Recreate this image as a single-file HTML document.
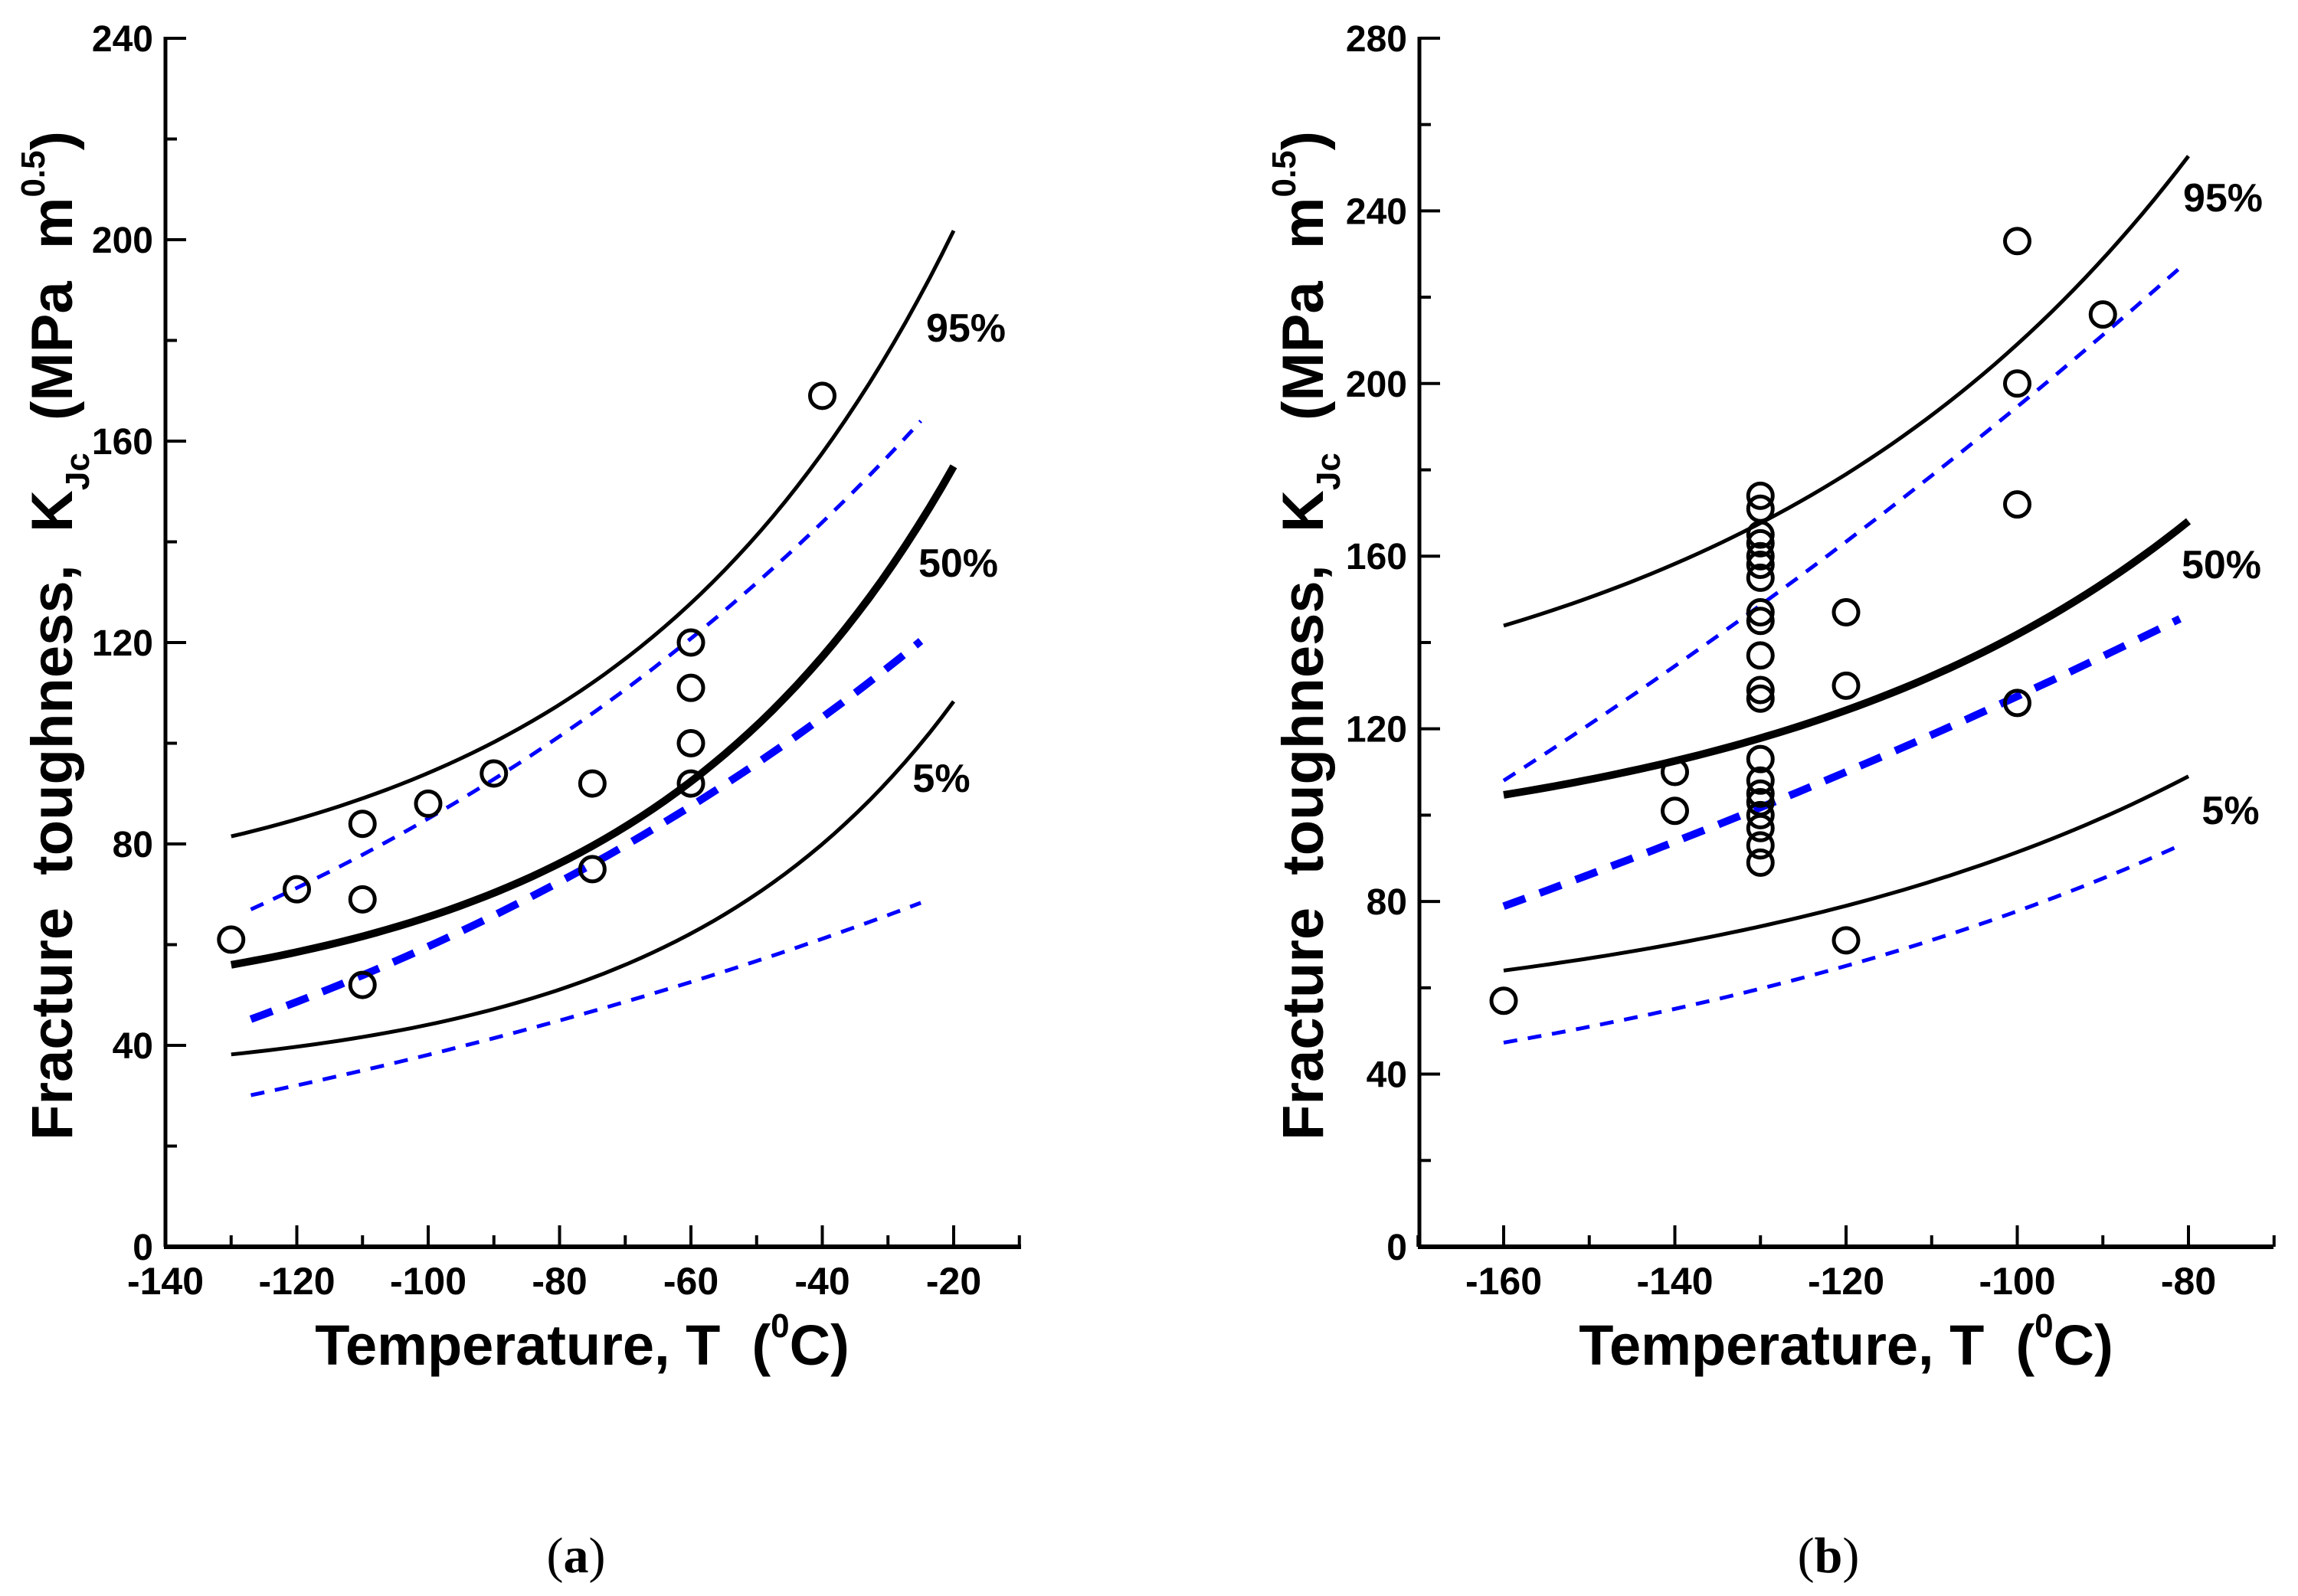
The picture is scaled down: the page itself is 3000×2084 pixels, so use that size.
<!DOCTYPE html>
<html><head><meta charset="utf-8">
<style>
html,body{margin:0;padding:0;background:#fff;}
svg{display:block;}
text{font-family:"Liberation Sans",Arial,sans-serif;font-weight:bold;fill:#000;}
</style></head>
<body>
<svg id="s" width="3000" height="2084" viewBox="0 0 3000 2084" xmlns="http://www.w3.org/2000/svg">
<rect width="3000" height="2084" fill="#fff"/>
<g id="g"></g>
<text x="760" y="1782" font-size="74" text-anchor="middle">Temperature, T&#160;&#160;(<tspan font-size="44" dy="-36">0</tspan><tspan dy="36">C)</tspan></text>
<text x="2410" y="1782" font-size="74" text-anchor="middle">Temperature, T&#160;&#160;(<tspan font-size="44" dy="-36">0</tspan><tspan dy="36">C)</tspan></text>
<text transform="translate(94,830) rotate(-90)" font-size="76" text-anchor="middle">Fracture&#160;&#160;toughness,&#160;&#160;K<tspan font-size="44" dy="22">Jc</tspan><tspan dy="-22">&#160;&#160;(MPa&#160;&#160;m</tspan><tspan font-size="44" dy="-36">0.5</tspan><tspan dy="36">)</tspan></text>
<text transform="translate(1727,830) rotate(-90)" font-size="76" text-anchor="middle">Fracture&#160;&#160;toughness,&#160;&#160;K<tspan font-size="44" dy="22">Jc</tspan><tspan dy="-22">&#160;&#160;(MPa&#160;&#160;m</tspan><tspan font-size="44" dy="-36">0.5</tspan><tspan dy="36">)</tspan></text>
<text x="752" y="2053" font-size="66" text-anchor="middle" style="font-family:'Liberation Serif',serif;font-weight:normal">(<tspan font-weight="bold">a</tspan>)</text>
<text x="2387" y="2053" font-size="66" text-anchor="middle" style="font-family:'Liberation Serif',serif;font-weight:normal">(<tspan font-weight="bold">b</tspan>)</text>
<text x="1261" y="446" font-size="52" text-anchor="middle">95%</text>
<text x="1251" y="753" font-size="52" text-anchor="middle">50%</text>
<text x="1229" y="1034" font-size="52" text-anchor="middle">5%</text>
<text x="2902" y="276" font-size="52" text-anchor="middle">95%</text>
<text x="2900" y="755" font-size="52" text-anchor="middle">50%</text>
<text x="2912" y="1076" font-size="52" text-anchor="middle">5%</text>
</svg>
<script>
(function(){
var g=document.getElementById("g");
function fit(p1,pm,p2){
  var h=pm[0]-p1[0];var r=(p2[1]-pm[1])/(pm[1]-p1[1]);
  if(Math.abs(r-1)<1e-6)r=1.000001;
  var C=Math.log(r)/h;var B=(pm[1]-p1[1])/(Math.exp(C*pm[0])-Math.exp(C*p1[0]));
  var A=p1[1]-B*Math.exp(C*p1[0]);
  return function(t){return A+B*Math.exp(C*t);};
}
function plot(P){
  var X=function(t){return P.x0+(t-P.t0)*P.sx;},Y=function(v){return 1628-v*P.sy;};
  var s="";
  s+='<line x1="'+P.ax+'" y1="1628" x2="'+P.ax+'" y2="48" stroke="#000" stroke-width="5"/>';
  s+='<line x1="'+(P.ax-2)+'" y1="1628" x2="'+P.axr+'" y2="1628" stroke="#000" stroke-width="6"/>';
  for(var v=0;v<=P.ymax;v+=20){var y=Y(v),maj=(v%40==0);
    s+='<line x1="'+P.ax+'" y1="'+y+'" x2="'+(P.ax+(maj?27:15))+'" y2="'+y+'" stroke="#000" stroke-width="4"/>';
    if(maj)s+='<text x="'+(P.ax-16)+'" y="'+(y+17)+'" font-size="48" text-anchor="end">'+v+'</text>';}
  for(var t=P.tmin;t<=P.tmax+0.01;t+=P.tstep){var x=X(t),maj=(Math.round((t-P.tlab)/P.tstep)%2==0);
    s+='<line x1="'+x+'" y1="1628" x2="'+x+'" y2="'+(1628-(maj?28:15))+'" stroke="#000" stroke-width="4"/>';
    if(maj)s+='<text x="'+x+'" y="1690" font-size="50" text-anchor="middle">'+t+'</text>';}
  P.curves.forEach(function(c){var f=fit(c.p[0],c.p[1],c.p[2]);var d="";
    var a=c.p[0][0],b=c.p[2][0];for(var i=0;i<=60;i++){var t=a+(b-a)*i/60;d+=(i?"L":"M")+X(t).toFixed(1)+","+Y(f(t)).toFixed(1);}
    s+='<path d="'+d+'" fill="none" stroke="'+c.c+'" stroke-width="'+c.w+'"'+(c.da?' stroke-dasharray="'+c.da+'"':'')+'/>';});
  P.pts.forEach(function(p){s+='<circle cx="'+X(p[0])+'" cy="'+Y(p[1])+'" r="16" fill="none" stroke="#000" stroke-width="5"/>';});
  return s;
}
var L={x0:216,t0:-140,sx:8.575,sy:6.575,ax:216,axr:1333,ymax:240,tmin:-140,tmax:-10,tstep:10,tlab:-140,
curves:[
 {p:[[-130,81.5],[-75,112],[-20,201.8]],c:"#000",w:5},
 {p:[[-130,56],[-75,79.6],[-20,155]],c:"#000",w:10},
 {p:[[-130,38.2],[-75,53.4],[-20,108.3]],c:"#000",w:5},
 {p:[[-127,67],[-76,105],[-25,164]],c:"#0000ff",w:5,da:"18,14"},
 {p:[[-127,45.2],[-76,75.3],[-25,120.3]],c:"#0000ff",w:10,da:"30,20"},
 {p:[[-127,30.1],[-76,46.4],[-25,68.3]],c:"#0000ff",w:5,da:"18,14"}],
pts:[[-130,61],[-120,71],[-110,84],[-110,69],[-110,52],[-100,88],[-90,94],[-75,92],[-75,75],[-60,120],[-60,111],[-60,100],[-60,92],[-40,169]]};
var R={x0:1963,t0:-160,sx:11.175,sy:5.636,ax:1853,axr:2968,ymax:280,tmin:-170,tmax:-70,tstep:10,tlab:-160,
curves:[
 {p:[[-160,143.9],[-120,179],[-80,252.7]],c:"#000",w:5},
 {p:[[-160,104.7],[-120,124.3],[-80,168.1]],c:"#000",w:10},
 {p:[[-160,64],[-120,79],[-80,109]],c:"#000",w:5},
 {p:[[-160,108],[-120.5,162.6],[-81,226.8]],c:"#0000ff",w:5,da:"18,14"},
 {p:[[-160,78.9],[-120.5,109.6],[-81,145.5]],c:"#0000ff",w:10,da:"30,20"},
 {p:[[-160,47.3],[-120.5,64.8],[-81,93]],c:"#0000ff",w:5,da:"18,14"}],
pts:[[-160,57],[-140,110],[-140,101],[-120,147],[-120,130],[-120,71],[-100,233],[-100,200],[-100,172],[-100,126],[-90,216]]};
[174,171,165,163,160,158,155,147,145,137,129,127,113,108,105,103,100,97,93,89].forEach(function(v){R.pts.push([-130,v]);});
g.innerHTML=plot(L)+plot(R);
})();
</script>
</body></html>
